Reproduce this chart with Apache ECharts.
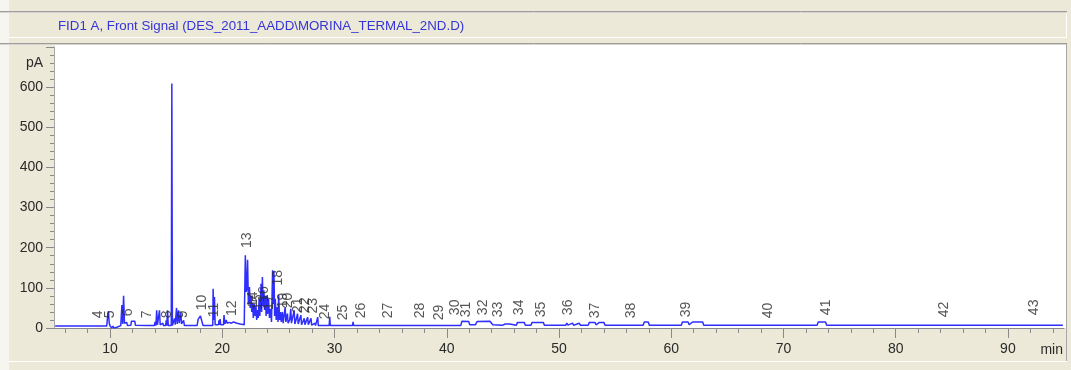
<!DOCTYPE html>
<html><head><meta charset="utf-8">
<script src="https://cdn.jsdelivr.net/npm/echarts@6/dist/echarts.min.js"></script>
<style>html,body{margin:0;padding:0;background:#ECE9D8;overflow:hidden}#c{width:1071px;height:370px}</style>
</head><body><div id="c"></div>
<script>
const chartTitle = 'FID1 A, Front Signal (DES_2011_AADD\\MORINA_TERMAL_2ND.D)';
const xUnit = 'min';
const yUnit = 'pA';
const xMajorTicks = [10, 20, 30, 40, 50, 60, 70, 80, 90];
const xMinorTicks = [6, 8, 10, 12, 14, 16, 18, 20, 22, 24, 26, 28, 30, 32, 34, 36, 38, 40, 42, 44, 46, 48, 50, 52, 54, 56, 58, 60, 62, 64, 66, 68, 70, 72, 74, 76, 78, 80, 82, 84, 86, 88, 90, 92, 94];
const yTickLabels = [0, 100, 200, 300, 400, 500, 600];

// retention time (min), signal (pA)
const chromatogram = [
 [5.1,5],[8.80,5],[8.88,9],[8.96,5],[9.70,5],[9.78,30],[9.85,42],[9.92,12],[10.00,5],[10.15,0],[10.25,5],[10.35,0],[10.45,4],[10.60,2],[10.75,5],
 [10.95,6],[11.05,57],[11.12,10],[11.20,80],[11.28,12],[11.40,8],[11.48,14],[11.55,6],[11.85,7],[11.90,17],[12.20,17],[12.25,7],[13.30,6],[13.35,9],[13.40,6],
 [13.95,6],[14.00,15],[14.08,6],[14.15,44],[14.22,8],[14.40,44],[14.46,8],[14.60,7],[14.70,12],[14.75,6],[14.95,6],[15.00,19],[15.05,6],[15.12,44],[15.18,6],
 [15.45,6],[15.50,609],[15.55,6],[15.70,6],[15.74,24],[15.80,8],[15.92,50],[15.98,10],[16.10,44],[16.16,12],[16.30,39],[16.36,10],[16.55,19],[16.62,6],
 [17.75,6],[17.85,22],[18.05,30],[18.20,28],[18.28,6],[18.80,6],[18.85,10],[18.90,6],[19.15,6],[19.18,98],[19.24,20],[19.30,77],[19.36,8],[19.66,8],[19.70,19],
 [19.75,8],[19.80,22],[19.85,8],[20.10,8],[20.15,32],[20.22,10],[20.35,20],[20.42,12],[20.60,14],[20.80,12],[21.00,15],[21.30,12],[21.60,10],[21.95,8],
 [22.05,181],[22.12,90],[22.18,100],[22.25,170],[22.32,60],[22.42,102],[22.48,50],[22.57,81],[22.62,40],[22.70,62],[22.76,25],[22.85,60],[22.92,30],[23.00,55],
 [23.06,20],[23.12,45],[23.20,25],[23.28,73],[23.34,30],[23.45,110],[23.50,40],[23.57,127],[23.63,55],[23.70,94],[23.77,45],[23.85,80],[23.90,30],[23.97,81],
 [24.03,35],[24.12,73],[24.20,25],[24.30,48],[24.38,15],[24.48,144],[24.54,60],[24.60,140],[24.66,30],[24.72,73],[24.80,20],[24.90,52],[24.96,15],[25.02,82],
 [25.10,20],[25.18,40],[25.25,15],[25.35,40],[25.42,12],[25.60,52],[25.66,15],[25.80,36],[25.86,12],[26.00,20],[26.10,48],[26.16,12],[26.40,44],[26.46,10],
 [26.55,18],[26.70,36],[26.76,10],[27.00,32],[27.06,8],[27.30,24],[27.36,8],[27.60,27],[27.66,8],[27.90,24],[27.96,7],[28.25,12],[28.30,6],[28.50,27],[28.55,6],
 [29.52,6],[29.57,28],[29.62,6],[31.60,6],[31.65,15],[31.70,6],[33.15,6],[33.20,10],[33.25,6],[38.35,6],[38.40,10],[38.45,6],[40.45,6],[40.50,9],[40.55,6],
 [41.25,6],[41.35,17],[41.95,16],[42.05,8],[42.55,8],[42.70,16],[43.85,17],[43.90,20],[44.00,16],[44.10,8],[45.0,7],[45.2,10],[45.3,7],[45.6,10],[45.7,7],
 [46.2,7],[46.3,14],[46.9,14],[47.0,7],[47.5,7],[47.6,14],[48.6,14],[48.7,7],[50.6,7],[50.7,12],[50.8,7],[51.2,12],[51.3,7],[51.8,12],[51.9,7],[52.6,7],
 [52.7,14],[53.2,14],[53.3,8],[53.6,14],[54.0,14],[54.1,7],[57.5,7],[57.6,15],[57.95,15],[58.05,7],[60.9,7],[61.0,15],[61.5,15],[61.6,8],[61.9,15],[62.8,15],
 [62.9,7],[73.0,7],[73.1,15],[73.75,15],[73.85,7],[94.9,7]
];

const peakNumbers = ['4','5','6','7','8','9','10','11','12','13','14','15','16','17','18','19','20','21','22','23','24','25','26','27','28','29','30','31','32','33','34','35','36','37','38','39','40','41','42','43'];
const peakTimes = [8.96,10.0,11.63,13.32,15.1,16.53,18.16,19.25,20.9,22.17,22.76,23.2,23.75,24.2,24.93,25.4,25.88,26.77,27.37,28.1,29.15,30.78,32.41,34.78,37.6,39.33,40.72,41.76,43.24,44.58,46.45,48.44,50.81,53.19,56.46,61.35,68.62,73.82,84.35,92.37];
const peakLabelLevels = [24,24,29,24,24,24,44,27,30,199,52,45,65,45,106,49,49,37,37,36,22,19,24,24,24,19,32,27,32,27,32,27,32,24,24,27,24,32,27,32];

const chart = echarts.init(document.getElementById('c'), null, {renderer: 'canvas'});
const axisGrey = '#8a8a8a';
const labelColor = '#2a2a2a';
const font = 'Liberation Sans, Arial, sans-serif';

chart.setOption({
  animation: false,
  backgroundColor: '#ECE9D8',
  textStyle: {fontFamily: font},
  title: {
    text: chartTitle, left: 53, top: 15,
    textStyle: {fontSize: 13.3, fontWeight: 'normal', color: '#3434d8', fontFamily: font}
  },
  graphic: {elements: [
    {type: 'rect', z: -100, shape: {x: 0, y: 0, width: 9, height: 370}, style: {fill: '#F6F5EF'}},
    {type: 'line', z: -90, shape: {x1: 0, y1: 11.5, x2: 1067, y2: 11.5}, style: {stroke: '#9c9c9c', lineWidth: 1}},
    {type: 'line', z: -90, shape: {x1: 0, y1: 12.5, x2: 1067, y2: 12.5}, style: {stroke: '#d8d6cc', lineWidth: 1}},
    {type: 'line', z: -90, shape: {x1: 9, y1: 37.5, x2: 1066, y2: 37.5}, style: {stroke: '#ffffff', lineWidth: 1}},
    {type: 'line', z: -90, shape: {x1: 1066.5, y1: 13, x2: 1066.5, y2: 38}, style: {stroke: '#ffffff', lineWidth: 1}},
    {type: 'line', z: -90, shape: {x1: 0, y1: 43.5, x2: 1067, y2: 43.5}, style: {stroke: '#9c9c9c', lineWidth: 1}},
    {type: 'line', z: -90, shape: {x1: 0, y1: 44.5, x2: 1067, y2: 44.5}, style: {stroke: '#d8d6cc', lineWidth: 1}},
    {type: 'rect', z: -80, shape: {x: 55, y: 45, width: 1011, height: 283}, style: {fill: '#ffffff'}},
    {type: 'line', z: -90, shape: {x1: 1066.5, y1: 44, x2: 1066.5, y2: 361}, style: {stroke: '#a8a8a8', lineWidth: 1}},
    {type: 'line', z: -90, shape: {x1: 9, y1: 361.5, x2: 1067, y2: 361.5}, style: {stroke: '#ffffff', lineWidth: 1}}
  ]},
  grid: {left: 54, right: 7, top: 47, bottom: 42, containLabel: false},
  xAxis: [
    {
      type: 'value', min: 5, max: 95,
      name: xUnit, nameLocation: 'end', nameGap: 0,
      nameTextStyle: {fontSize: 14, color: labelColor, align: 'right', verticalAlign: 'top', padding: [15, 1, 0, 0]},
      axisLine: {show: true, lineStyle: {color: axisGrey, width: 1}},
      axisTick: {show: true, customValues: xMinorTicks, length: 5, lineStyle: {color: axisGrey}},
      axisLabel: {show: true, customValues: xMajorTicks, margin: 14, fontSize: 14, color: labelColor},
      splitLine: {show: false}
    },
    {
      type: 'value', min: 5, max: 95, position: 'bottom',
      axisLine: {show: false},
      axisTick: {show: true, customValues: xMajorTicks, length: 10, lineStyle: {color: axisGrey}},
      axisLabel: {show: false},
      splitLine: {show: false}
    }
  ],
  yAxis: {
    type: 'value', min: 0, max: 700, interval: 100,
    name: yUnit, nameLocation: 'end', nameGap: -16,
    nameTextStyle: {fontSize: 14, color: labelColor, align: 'right', verticalAlign: 'middle', padding: [0, 11, 0, 0]},
    axisLine: {show: true, lineStyle: {color: '#a8a8a8', width: 1}},
    axisTick: {show: true, length: 8, lineStyle: {color: axisGrey}},
    minorTick: {show: true, splitNumber: 5, length: 4, lineStyle: {color: axisGrey}},
    axisLabel: {customValues: yTickLabels, margin: 11, fontSize: 14, color: labelColor},
    splitLine: {show: false}
  },
  series: [
    {
      type: 'line', xAxisIndex: 0, yAxisIndex: 0,
      data: chromatogram, showSymbol: false, symbol: 'none',
      lineStyle: {color: '#2e2eff', width: 1.5}, sampling: null, z: 3
    },
    {
      type: 'scatter', xAxisIndex: 0, yAxisIndex: 0, symbolSize: 0, silent: true, z: 4,
      data: peakNumbers.map((n, i) => ({name: n, value: [peakTimes[i], peakLabelLevels[i]]})),
      label: {
        show: true, formatter: '{b}', position: 'top', distance: 0, rotate: 90,
        align: 'left', verticalAlign: 'middle', fontSize: 14, color: labelColor, fontFamily: font
      }
    }
  ]
});
</script></body></html>
